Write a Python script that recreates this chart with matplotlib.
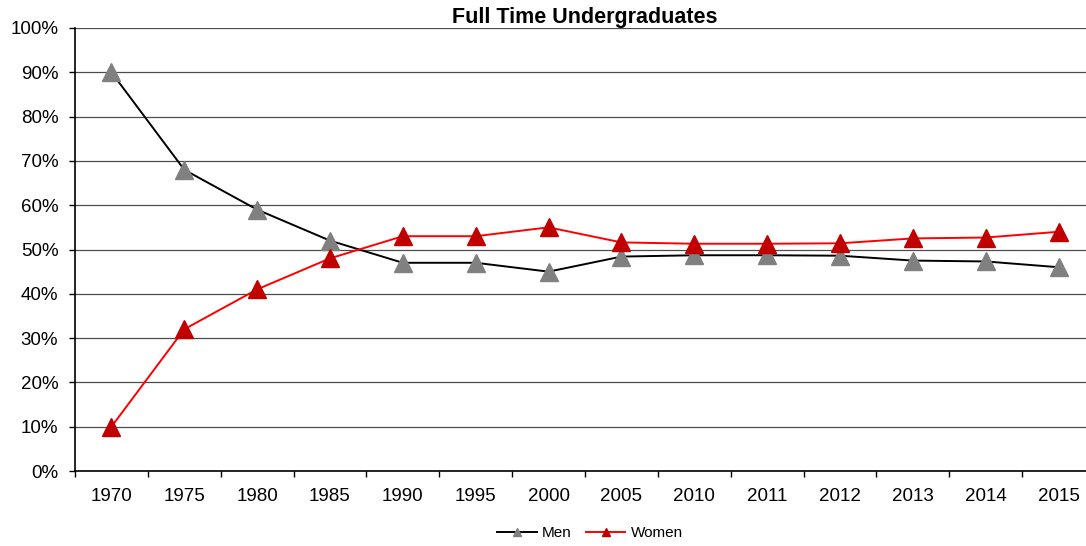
import numpy as np
import matplotlib.pyplot as plt
from matplotlib.ticker import PercentFormatter

plt.rcParams['font.family'] = ['Liberation Sans', 'DejaVu Sans']

# share of full time undergraduates (%)
years = ['1970', '1975', '1980', '1985', '1990', '1995', '2000',
         '2005', '2010', '2011', '2012', '2013', '2014', '2015']
men = [90, 68, 59, 52, 47, 47, 45, 48.4, 48.7, 48.7, 48.6, 47.5, 47.3, 46]
women = [10, 32, 41, 48, 53, 53, 55, 51.6, 51.3, 51.3, 51.4, 52.5, 52.7, 54]

fig = plt.figure(figsize=(10.86, 5.46), dpi=100)
ax = fig.add_axes([75 / 1086, 1 - 471 / 546, 1020 / 1086, 443 / 546])

x = np.arange(len(years))
ax.plot(x, men, '-', color='black', lw=1.4, marker='^', ms=13,
        mfc='#808080', mec='#808080', label='Men')
ax.plot(x, women, '-', color='#ff0000', lw=1.4, marker='^', ms=13,
        mfc='#c00000', mec='#c00000', label='Women')

ax.set_xlim(-0.5, len(years) - 0.5)
ax.set_ylim(0, 100)
ax.set_yticks(np.arange(0, 101, 10))
ax.yaxis.set_major_formatter(PercentFormatter(decimals=0))
ax.set_xticks(x)
ax.set_xticklabels(years)
ax.set_xticks(np.arange(-0.5, len(years), 1), minor=True)
ax.tick_params(axis='x', which='major', length=0, pad=12.5, labelsize=13.5)
ax.tick_params(axis='x', which='minor', length=4, width=1, direction='out')
ax.tick_params(axis='y', length=4, width=1, direction='out', pad=8,
               labelsize=13.5)
ax.grid(axis='y', color='#000000', lw=0.9, alpha=0.7)
ax.set_axisbelow(True)

for s in ['top', 'right']:
    ax.spines[s].set_visible(False)
ax.spines['left'].set_linewidth(1.2)
ax.spines['bottom'].set_linewidth(1.2)

ax.set_title('Full Time Undergraduates', fontsize=15.5, fontweight='bold', pad=2)
ax.legend(loc='center', bbox_to_anchor=(515 / 1020, -62 / 443), ncol=2,
          frameon=False, fontsize=11, markerscale=0.45, handlelength=2.6,
          handletextpad=0.35, columnspacing=0.9)

fig.savefig('out.png', dpi=100)
